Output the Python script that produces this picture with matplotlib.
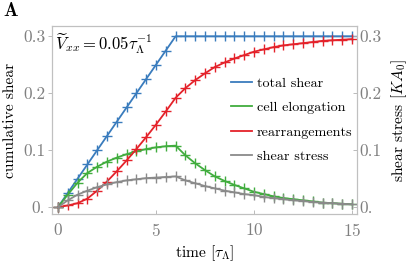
import numpy as np
import matplotlib
matplotlib.use("Agg")
import matplotlib.pyplot as plt

plt.rcParams['font.family'] = 'serif'
plt.rcParams['font.serif'] = ['cmr10']
plt.rcParams['mathtext.fontset'] = 'cm'
plt.rcParams['axes.formatter.use_mathtext'] = True

# time points (every 0.5 tau)
t = [0.0, 0.5, 1.0, 1.5, 2.0, 2.5, 3.0, 3.5, 4.0, 4.5, 5.0, 5.5, 6.0,
     6.5, 7.0, 7.5, 8.0, 8.5, 9.0, 9.5, 10.0, 10.5, 11.0, 11.5, 12.0,
     12.5, 13.0, 13.5, 14.0, 14.5, 15.0]

total_shear = [0.0, 0.025, 0.05, 0.075, 0.1, 0.125, 0.15, 0.175, 0.2, 0.225, 0.25, 0.275, 0.3,
               0.3, 0.3, 0.3, 0.3, 0.3, 0.3, 0.3, 0.3, 0.3, 0.3, 0.3, 0.3,
               0.3, 0.3, 0.3, 0.3, 0.3, 0.3]

cell_elong = [0.0, 0.022, 0.043, 0.060, 0.071, 0.080, 0.087, 0.093, 0.098, 0.102, 0.105, 0.107, 0.108,
              0.091, 0.077, 0.065, 0.054, 0.046, 0.039, 0.033, 0.027, 0.023, 0.019, 0.016, 0.014,
              0.012, 0.010, 0.008, 0.007, 0.006, 0.005]

rearr = [0.0, 0.003, 0.007, 0.015, 0.029, 0.045, 0.063, 0.082, 0.102, 0.123, 0.145, 0.168, 0.192,
         0.209, 0.223, 0.235, 0.246, 0.254, 0.261, 0.267, 0.273, 0.277, 0.281, 0.284, 0.286,
         0.288, 0.290, 0.292, 0.293, 0.294, 0.295]

stress = [0.0, 0.012, 0.022, 0.029, 0.035, 0.040, 0.044, 0.047, 0.049, 0.051, 0.052, 0.053, 0.054,
          0.047, 0.042, 0.037, 0.033, 0.029, 0.026, 0.023, 0.021, 0.018, 0.016, 0.014, 0.012,
          0.011, 0.009, 0.008, 0.007, 0.006, 0.005]

xticks = [0, 5, 10, 15]
yticks = [0.0, 0.1, 0.2, 0.3]
ytick_labels = ['0.', '0.1', '0.2', '0.3']

series = [
    ('total shear', total_shear, '#3a7cbd'),
    ('cell elongation', cell_elong, '#41ad3e'),
    ('rearrangements', rearr, '#e4222a'),
    ('shear stress', stress, '#8a8a8a'),
]

fig = plt.figure(figsize=(4.07, 2.67), dpi=100)
ax = fig.add_axes([0.128, 0.1985, 0.749, 0.704])

for name, vals, col in series:
    ax.plot(t, vals, color=col, lw=1.3, label=name)
    ax.plot(t, vals, ls='none', marker='+', ms=7.5, mew=1.0, color=col)

ax.set_xlim(-0.3, 15.25)
ax.set_ylim(-0.012, 0.318)
ax.set_xticks(xticks)
ax.set_yticks(yticks)
ax.set_yticklabels(ytick_labels)

ax2 = ax.twinx()
ax2.set_ylim(ax.get_ylim())
ax2.set_yticks(yticks)
ax2.set_yticklabels(ytick_labels)

for a in (ax, ax2):
    for s in a.spines.values():
        s.set_color('#c0c0c0')
        s.set_linewidth(0.8)
    a.tick_params(direction='in', length=3, width=0.6, color='#b0b0b0',
                  labelcolor='#808080', labelsize=12.5)
ax.tick_params(axis='x', pad=6)
ax.tick_params(axis='y', direction='out', pad=2)
ax2.tick_params(axis='y', pad=2)

ax.set_xlabel(r'time [$\tau_\Lambda$]', fontsize=11.2, labelpad=3)
ax.set_ylabel('cumulative shear', fontsize=11.2, labelpad=4)
ax2.set_ylabel(r'shear stress [$KA_0$]', fontsize=11.2, labelpad=5)

ax.text(-0.15, 0.286, r'$\widetilde{V}_{xx} = 0.05\tau_\Lambda^{-1}$', fontsize=12, va='center')

handles, labels = ax.get_legend_handles_labels()
ax.legend(handles, labels, loc='center left', bbox_to_anchor=(0.587, 0.5),
          frameon=False, fontsize=10.2, handlelength=1.45, handletextpad=0.35,
          labelspacing=0.8, borderpad=0, borderaxespad=0)

fig.text(0.008, 0.96, r'$\mathbf{A}$', fontsize=14, va='center')

fig.savefig('out.png', dpi=100)
